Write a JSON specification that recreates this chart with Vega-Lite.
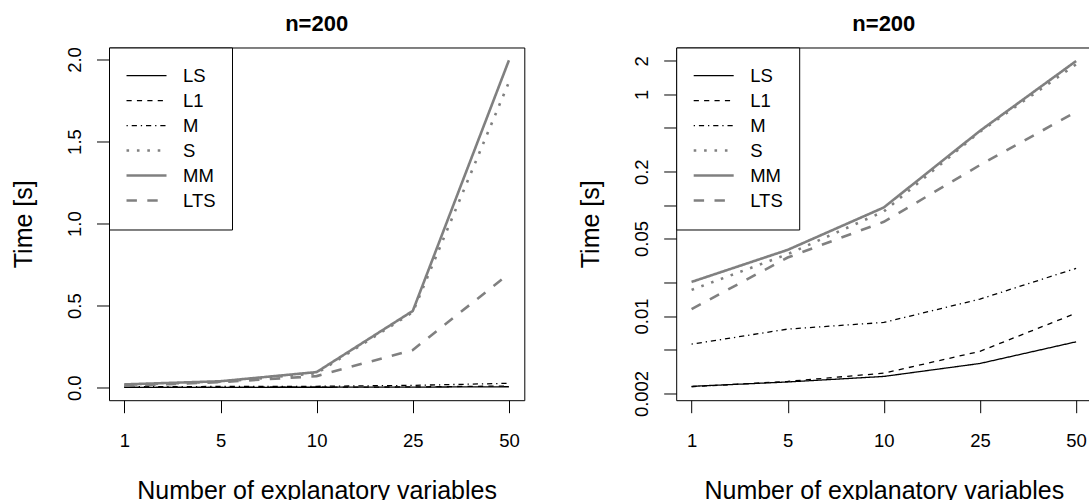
{
  "$schema": "https://vega.github.io/schema/vega-lite/v6.json",
  "background": "white",
  "padding": {"left": 11, "top": 12.5, "right": 0, "bottom": 0},
  "config": {
    "font": "Liberation Sans",
    "view": {"stroke": "black", "strokeWidth": 1},
    "axis": {
      "grid": false,
      "domain": false,
      "ticks": true,
      "tickColor": "black",
      "tickSize": 12.5,
      "tickWidth": 1,
      "labelColor": "black",
      "labelFont": "Liberation Sans",
      "labelFontSize": 18.5,
      "labelOverlap": false,
      "labelFlush": false,
      "titleColor": "black",
      "titleFont": "Liberation Sans",
      "titleFontSize": 25,
      "titleFontWeight": "normal"
    },
    "axisX": {
      "labelAngle": 0,
      "labelAlign": "center",
      "labelBaseline": "alphabetic",
      "labelPadding": 34.2,
      "titleX": 207.6,
      "titleY": 98,
      "titleAlign": "center",
      "titleBaseline": "alphabetic"
    },
    "axisY": {
      "labelAngle": 270,
      "labelAlign": "center",
      "labelBaseline": "alphabetic",
      "labelPadding": 15.8,
      "titleX": -77.5,
      "titleY": 176.3,
      "titleAngle": 270,
      "titleAlign": "center",
      "titleBaseline": "alphabetic"
    },
    "legend": {
      "orient": "top-left",
      "offset": 0,
      "padding": 16,
      "strokeColor": "black",
      "fillColor": "white",
      "symbolType": "stroke",
      "symbolSize": 1600,
      "labelFont": "Liberation Sans",
      "labelFontSize": 18.5,
      "labelColor": "black",
      "labelOffset": 15,
      "rowPadding": 0,
      "clipHeight": 24.1,
      "labelLimit": 200
    },
    "title": {
      "font": "Liberation Sans",
      "fontSize": 22,
      "fontWeight": "bold",
      "color": "black",
      "anchor": "middle",
      "baseline": "alphabetic",
      "offset": 10.6
    }
  },
  "data": {
    "values": [
      {"method": "LS", "p": 1, "time": 0.00232},
      {"method": "LS", "p": 5, "time": 0.00254},
      {"method": "LS", "p": 10, "time": 0.00285},
      {"method": "LS", "p": 25, "time": 0.00373},
      {"method": "LS", "p": 50, "time": 0.00585},
      {"method": "L1", "p": 1, "time": 0.0023},
      {"method": "L1", "p": 5, "time": 0.00257},
      {"method": "L1", "p": 10, "time": 0.00305},
      {"method": "L1", "p": 25, "time": 0.0048},
      {"method": "L1", "p": 50, "time": 0.0106},
      {"method": "M", "p": 1, "time": 0.00557},
      {"method": "M", "p": 5, "time": 0.00762},
      {"method": "M", "p": 10, "time": 0.00875},
      {"method": "M", "p": 25, "time": 0.0142},
      {"method": "M", "p": 50, "time": 0.0269},
      {"method": "S", "p": 1, "time": 0.0172},
      {"method": "S", "p": 5, "time": 0.0361},
      {"method": "S", "p": 10, "time": 0.0877},
      {"method": "S", "p": 25, "time": 0.46},
      {"method": "S", "p": 50, "time": 1.862},
      {"method": "MM", "p": 1, "time": 0.0203},
      {"method": "MM", "p": 5, "time": 0.0395},
      {"method": "MM", "p": 10, "time": 0.0953},
      {"method": "MM", "p": 25, "time": 0.468},
      {"method": "MM", "p": 50, "time": 1.995},
      {"method": "LTS", "p": 1, "time": 0.01153},
      {"method": "LTS", "p": 5, "time": 0.0337},
      {"method": "LTS", "p": 10, "time": 0.0707},
      {"method": "LTS", "p": 25, "time": 0.23},
      {"method": "LTS", "p": 50, "time": 0.694}
    ]
  },
  "spacing": 151.2,
  "bounds": "flush",
  "resolve": {
    "scale": {"x": "independent", "y": "independent", "color": "independent", "strokeDash": "independent", "strokeWidth": "independent"},
    "legend": {"color": "independent", "strokeDash": "independent", "strokeWidth": "independent"}
  },
  "hconcat": [
    {
      "width": 415.3,
      "height": 352.7,
      "title": {"text": "n=200"},
      "mark": {"type": "line", "strokeCap": "butt", "clip": true},
      "encoding": {
        "x": {"field": "p", "type": "ordinal", "scale": {"type": "point", "domain": [1, 5, 10, 25, 50], "padding": 0.16}, "axis": {"title": "Number of explanatory variables"}},
        "y": {"field": "time", "type": "quantitative", "scale": {"domain": [-0.076, 2.073], "nice": false, "zero": false}, "axis": {"title": "Time [s]", "values": [0, 0.5, 1, 1.5, 2], "format": ".1f"}},
        "color": {"field": "method", "type": "nominal", "scale": {"domain": ["LS", "L1", "M", "S", "MM", "LTS"], "range": ["black", "black", "black", "#808080", "#808080", "#808080"]}, "legend": {"title": null}},
        "strokeDash": {"field": "method", "type": "nominal", "scale": {"domain": ["LS", "L1", "M", "S", "MM", "LTS"], "range": [[1, 0], [5.2, 5.2], [1.3, 3.9, 5.2, 3.9], [2.6, 7.8], [1, 0], [10.4, 10.4]]}, "legend": {"title": null}},
        "strokeWidth": {"field": "method", "type": "nominal", "scale": {"type": "ordinal", "domain": ["LS", "L1", "M", "S", "MM", "LTS"], "range": [1.3, 1.3, 1.3, 2.6, 2.6, 2.6]}, "legend": {"title": null}}
      }
    },
    {
      "width": 415.3,
      "height": 352.7,
      "title": {"text": "n=200"},
      "mark": {"type": "line", "strokeCap": "butt", "clip": true},
      "encoding": {
        "x": {"field": "p", "type": "ordinal", "scale": {"type": "point", "domain": [1, 5, 10, 25, 50], "padding": 0.16}, "axis": {"title": "Number of explanatory variables"}},
        "y": {"field": "time", "type": "quantitative", "scale": {"type": "log", "domain": [0.00174, 2.642], "nice": false, "zero": false}, "axis": {"title": "Time [s]", "values": [2, 1, 0.5, 0.2, 0.1, 0.05, 0.02, 0.01, 0.005, 0.002], "labelExpr": "indexof([2, 1, 0.2, 0.05, 0.01, 0.002], datum.value) >= 0 ? format(datum.value, '~g') : ''"}},
        "color": {"field": "method", "type": "nominal", "scale": {"domain": ["LS", "L1", "M", "S", "MM", "LTS"], "range": ["black", "black", "black", "#808080", "#808080", "#808080"]}, "legend": {"title": null}},
        "strokeDash": {"field": "method", "type": "nominal", "scale": {"domain": ["LS", "L1", "M", "S", "MM", "LTS"], "range": [[1, 0], [5.2, 5.2], [1.3, 3.9, 5.2, 3.9], [2.6, 7.8], [1, 0], [10.4, 10.4]]}, "legend": {"title": null}},
        "strokeWidth": {"field": "method", "type": "nominal", "scale": {"type": "ordinal", "domain": ["LS", "L1", "M", "S", "MM", "LTS"], "range": [1.3, 1.3, 1.3, 2.6, 2.6, 2.6]}, "legend": {"title": null}}
      }
    }
  ]
}
